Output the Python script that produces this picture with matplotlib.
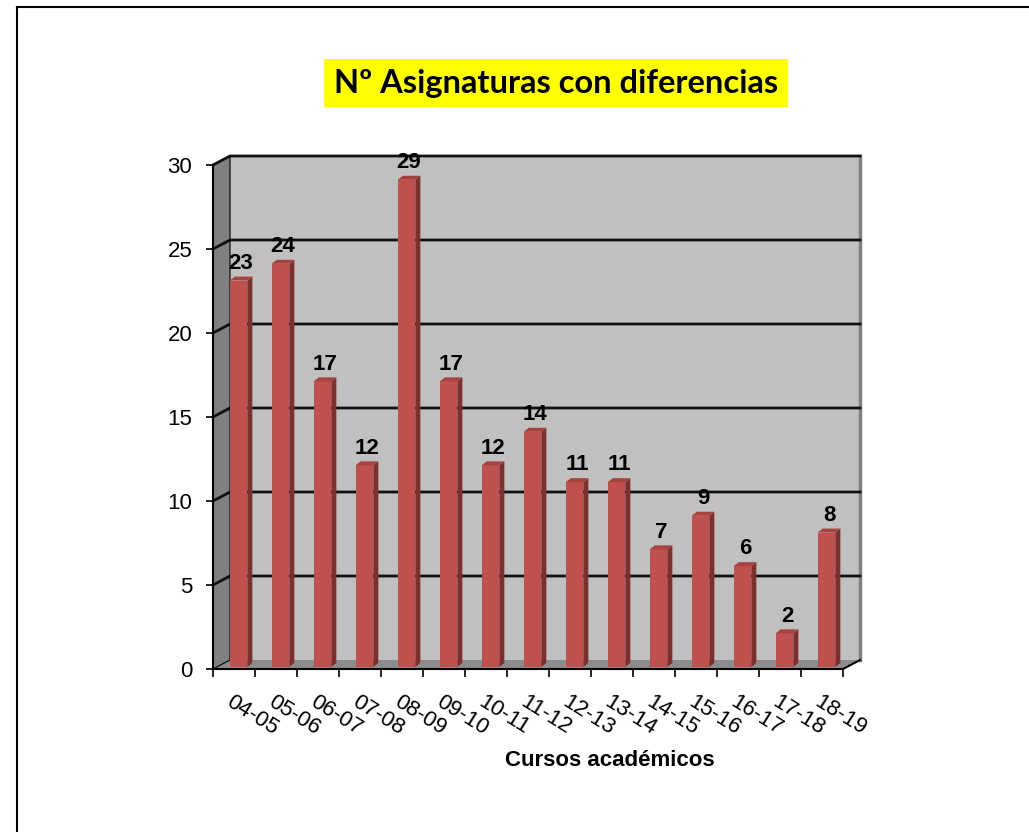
import matplotlib.pyplot as plt
from matplotlib.patches import Polygon, Rectangle
from matplotlib.lines import Line2D

# data
cursos = ['04-05', '05-06', '06-07', '07-08', '08-09', '09-10', '10-11', '11-12',
          '12-13', '13-14', '14-15', '15-16', '16-17', '17-18', '18-19']
asignaturas = [23, 24, 17, 12, 29, 17, 12, 14, 11, 11, 7, 9, 6, 2, 8]
yticks = [0, 5, 10, 15, 20, 25, 30]

# colours
wall_back = '#c0c0c0'
wall_side = '#808080'
floor_col = '#8c8c8c'
bar_front = '#c0504d'
bar_side = '#7d302e'
bar_top = '#a8423f'

fig = plt.figure(figsize=(10.29, 8.32), dpi=100)
ax = fig.add_axes([213 / 1029, 1 - 669 / 832, 630 / 1029, 504 / 832])

n = len(cursos)
ymax = 30
ax.set_xlim(0, n)
ax.set_ylim(0, ymax)

# fake 3d depth, in data units
dx, dy = 0.405, 0.536
ox, oy = 0.107, 0.12
bx, by = 0.12, 0.24
w = 0.42

# walls and floor
ax.add_patch(Rectangle((dx, dy), n, ymax, facecolor=wall_back, edgecolor='none',
                       zorder=0, clip_on=False))
ax.add_patch(Polygon([(0, 0), (dx, dy), (dx, ymax + dy), (0, ymax)], closed=True,
                     facecolor=wall_side, edgecolor='none', zorder=0, clip_on=False))
ax.add_patch(Polygon([(0, 0), (n, 0), (n + dx, dy), (dx, dy)], closed=True,
                     facecolor=floor_col, edgecolor='none', zorder=0.5, clip_on=False))
ax.plot([n + dx, n + dx], [dy, ymax + dy], color='#808080', lw=2.5, zorder=0.8,
        clip_on=False)

# grid lines on the walls
for v in yticks[1:]:
    ax.plot([0, dx, n + dx], [v, v + dy, v + dy], color='#111111', lw=2,
            zorder=1, clip_on=False)
ax.plot([0, dx, dx], [0, dy, ymax + dy], color='black', lw=0.8, zorder=1, clip_on=False)
ax.plot([n, n + dx], [0, dy], color='black', lw=1.5, zorder=1, clip_on=False)

# bars
centers = [i + 0.5 for i in range(n)]
ax.bar([c + ox for c in centers], asignaturas, width=w, bottom=oy,
       color=bar_front, zorder=3)
for c, v in zip(centers, asignaturas):
    xl = c + ox - w / 2
    xr = c + ox + w / 2
    top = v + oy
    ax.add_patch(Polygon([(xr, oy), (xr + bx, oy + by), (xr + bx, top + by), (xr, top)],
                         closed=True, facecolor=bar_side, edgecolor='none', zorder=3))
    ax.add_patch(Polygon([(xl, top), (xr, top), (xr + bx, top + by), (xl + bx, top + by)],
                         closed=True, facecolor=bar_top, edgecolor='none', zorder=3))
    ax.annotate(str(v), (c + ox + bx / 2, top + by), xytext=(0, 2),
                textcoords='offset points', ha='center', va='bottom',
                fontsize=16, fontweight='bold', family='Liberation Sans',
                zorder=4, annotation_clip=False)

# axes
for s in ['top', 'right']:
    ax.spines[s].set_visible(False)
for s in ['left', 'bottom']:
    ax.spines[s].set_linewidth(1.5)
    ax.spines[s].set_zorder(5)
ax.set_yticks(yticks)
ax.tick_params(axis='y', direction='out', length=5, width=1.2, pad=10,
               labelsize=16)
for lbl in ax.get_yticklabels():
    lbl.set_family('Liberation Sans')

ax.set_xticks(range(n + 1))
ax.set_xticklabels([])
ax.tick_params(axis='x', which='major', direction='out', length=6, width=1.2)
ax.set_xticks(centers, cursos, minor=True)
ax.tick_params(axis='x', which='minor', length=0, pad=16, labelsize=16)
for lbl in ax.get_xticklabels(minor=True):
    lbl.set_family('Liberation Sans')
    lbl.set_ha('left')
    lbl.set_va('top')
    lbl.set_rotation(-32)
    lbl.set_rotation_mode('anchor')

ax.set_xlabel('Cursos académicos', fontsize=16, fontweight='bold',
              family='Liberation Sans')
ax.xaxis.set_label_coords((610 - 213) / 630, -0.16)

# title
fig.text(556 / 1029, 1 - 83 / 832, 'Nº Asignaturas con diferencias',
         ha='center', va='center', fontsize=23.5, fontweight='bold', family='Lato',
         bbox=dict(facecolor='yellow', edgecolor='none', pad=7))

# outer frame
fig.add_artist(Line2D([17 / 1029, 17 / 1029], [0, 1 - 7 / 832], color='black', lw=1.5))
fig.add_artist(Line2D([17 / 1029, 1], [1 - 7 / 832, 1 - 7 / 832], color='black', lw=1.5))

plt.savefig('out.png', dpi=100)
